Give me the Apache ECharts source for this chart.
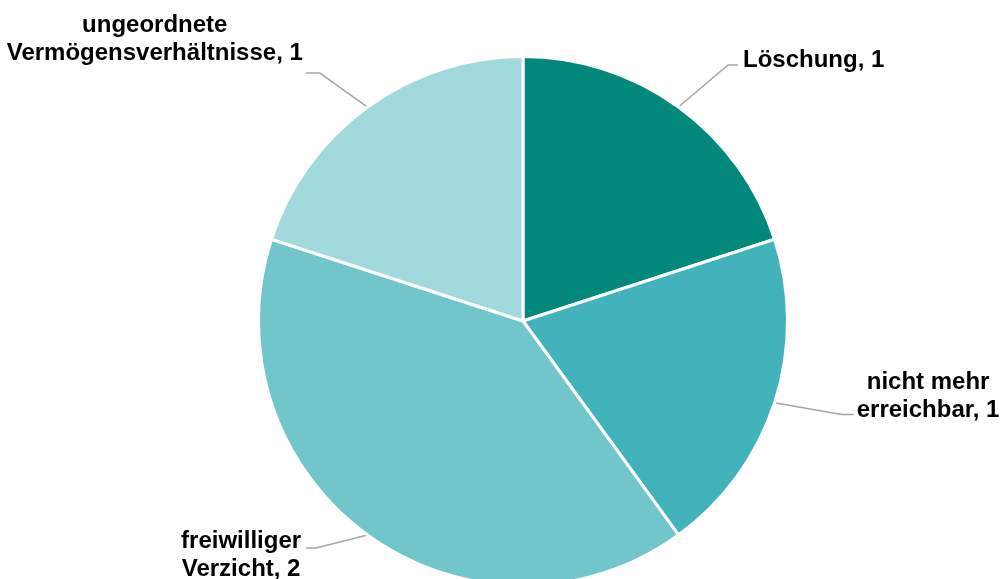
<!DOCTYPE html>
<html>
<head>
<meta charset="utf-8">
<script src="https://cdn.jsdelivr.net/npm/echarts@6/dist/echarts.min.js"></script>
<style>
  html, body { margin: 0; padding: 0; background: #ffffff; }
  #chart { width: 1003px; height: 579px; }
</style>
</head>
<body>
<div id="chart"></div>
<script>
// Categories (line breaks as shown in the labels) and counts
const categories = [
  'Löschung',
  'nicht mehr\nerreichbar',
  'freiwilliger\nVerzicht',
  'ungeordnete\nVermögensverhältnisse'
];
const counts = [1, 1, 2, 1];
const colors = ['#03897B', '#42B3BA', '#71C5CB', '#A2D9DD'];

// Leader line geometry and label box padding per slice
const lineLen = [52, 38, 16, 42];
const lineLen2 = [29, 43, 52, 37];
const elbowLen = [10, 12, 10, 14];
const labelGap = [5, 3, 5, 3];
const labelPad = [[0, 0, 10, 0], [0, 0, 36, 0], [14, 0, 0, 0], [0, 0, 68, 0]];

const data = categories.map((name, i) => ({
  name: name,
  value: counts[i],
  itemStyle: { color: colors[i] },
  labelLine: { length: lineLen[i], length2: lineLen2[i] },
  label: { padding: labelPad[i], distanceToLabelLine: labelGap[i] }
}));

const chart = echarts.init(document.getElementById('chart'), null, { renderer: 'canvas' });
chart.setOption({
  animation: false,
  backgroundColor: '#ffffff',
  series: [{
    type: 'pie',
    center: [523, 321],
    radius: 264.5,
    startAngle: 90,
    clockwise: true,
    avoidLabelOverlap: false,
    itemStyle: { borderColor: '#ffffff', borderWidth: 3 },
    label: {
      show: true,
      position: 'outside',
      formatter: function (p) {
        const parts = p.name.split('\n');
        parts[parts.length - 1] += ', ' + p.value;
        return parts.map(s => '{t|' + s + '}').join('\n');
      },
      rich: {
        t: {
          fontFamily: 'Liberation Sans, Arial, sans-serif',
          fontWeight: 'bold',
          fontSize: 24,
          lineHeight: 28,
          color: '#000000',
          align: 'center'
        }
      }
    },
    labelLine: {
      show: true,
      lineStyle: { color: '#A6A6A6', width: 1.5 }
    },
    // Keep the leader's start on the slice and its end at the label,
    // but make the bend a short horizontal elbow next to the text.
    labelLayout: function (params) {
      const pts = params.labelLinePoints;
      if (!pts || pts.length < 3) return {};
      const p0 = pts[0];
      const p2 = pts[pts.length - 1];
      const dir = p2[0] >= p0[0] ? 1 : -1;
      const h = elbowLen[params.dataIndex];
      return {
        labelLinePoints: [
          [p0[0], p0[1]],
          [p2[0] - dir * h, p2[1]],
          [p2[0], p2[1]]
        ]
      };
    },
    emphasis: { disabled: true },
    data: data
  }]
});
</script>
</body>
</html>
